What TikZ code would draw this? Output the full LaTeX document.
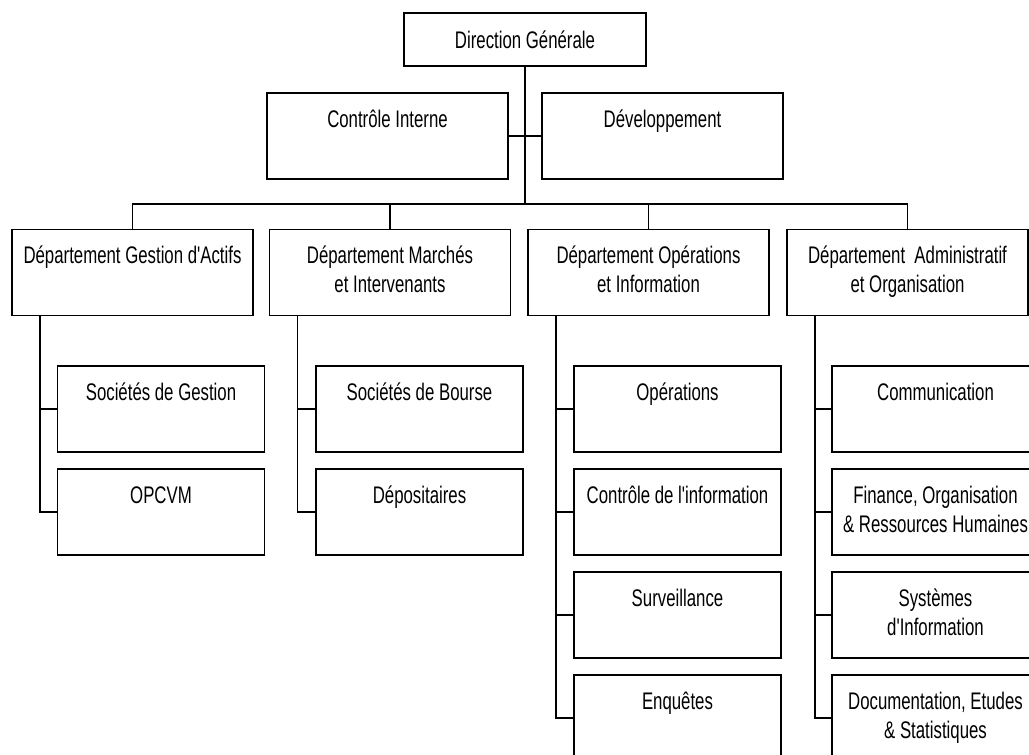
\documentclass[tikz,border=0pt]{standalone}
\usepackage{fontspec}
\newfontfamily\orgfont{Liberation Sans}[FakeStretch=0.70]
\usepackage{tikz}
\newcommand{\twoline}[2]{\strut#1\\\strut#2}

\begin{document}
\begin{tikzpicture}[x=1pt, y=-1pt,
  box/.style={draw, line width=1.8pt, inner sep=0pt, align=center,
    minimum width=241pt, minimum height=86pt,
    font=\orgfont\fontsize{24}{29}\selectfont},
  sub/.style={box, minimum width=207pt},
  link/.style={draw, line width=1.5pt}]
\useasboundingbox (0,0) rectangle (1029,755);

\node[box, minimum width=242pt, minimum height=53pt] (dg) at (525,39.5) {Direction Générale};
\node[box] (ci) at (387.5,136) {\twoline{Contrôle Interne}{}};
\node[box] (dev) at (662.5,136) {\twoline{Développement}{}};

\foreach \pos/\name/\disp in {{(132.5,272.5)/d1/\twoline{Département Gestion d'Actifs}{}},
  {(390,272.5)/d2/\twoline{Département Marchés}{et Intervenants}},
  {(648.5,272.5)/d3/\twoline{Département Opérations}{et Information}},
  {(907.5,272.5)/d4/\twoline{Département~~Administratif}{et Organisation}}}
\node[box] (\name) at \pos {\disp};

\foreach \pos/\name/\disp in {{(161,409)/s11/\twoline{Sociétés de Gestion}{}},
  {(161,512)/s12/\twoline{OPCVM}{}},
  {(419.5,409)/s21/\twoline{Sociétés de Bourse}{}},
  {(419.5,512)/s22/\twoline{Dépositaires}{}},
  {(677.5,409)/s31/\twoline{Opérations}{}},
  {(677.5,512)/s32/\twoline{Contrôle de l'information}{}},
  {(677.5,615)/s33/\twoline{Surveillance}{}},
  {(677.5,718)/s34/\twoline{Enquêtes}{}},
  {(935.5,409)/s41/\twoline{Communication}{}},
  {(935.5,512)/s42/\twoline{Finance, Organisation}{\& Ressources Humaines}},
  {(935.5,615)/s43/\twoline{Systèmes}{d'Information}},
  {(935.5,718)/s44/\twoline{Documentation, Etudes}{\& Statistiques}}}
\node[sub] (\name) at \pos {\disp};

% Direction and bus to the departments
\coordinate (bus) at (525,204);
\path[link] (dg.south) -- (bus);
\path[link] (ci.east) -- (dev.west);
\path[link] (d1.north) |- (bus) -| (d4.north);
\foreach \dept in {d2, d3}
\path[link] (\dept.north) -- (\dept.north |- bus);

% Spines down each department
\foreach \dept/\last in {d1/s12, d2/s22, d3/s34, d4/s44}
{
\coordinate (\dept-sp) at ([xshift=29pt]\dept.south west);
\path[link] (\dept-sp) |- (\last.west);
}
\foreach \dept/\sub in {d1/s11, d2/s21, d3/s31, d3/s32, d3/s33, d4/s41, d4/s42, d4/s43}
\path[link] (\dept-sp |- \sub.west) -- (\sub.west);

\end{tikzpicture}
\end{document}
